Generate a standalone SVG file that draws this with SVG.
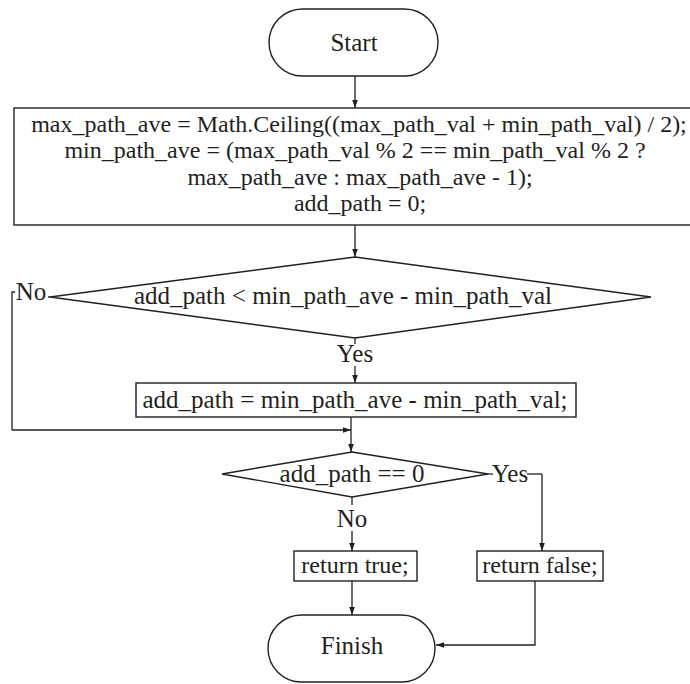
<svg xmlns="http://www.w3.org/2000/svg" width="690" height="684" viewBox="0 0 690 684">
<defs>
<marker id="ah" viewBox="0 0 10 10" refX="10" refY="5" markerWidth="8" markerHeight="8" markerUnits="userSpaceOnUse" orient="auto">
<path d="M0,1.5 L10,5 L0,8.5 Z" fill="#231f20"/>
</marker>
<style>
.s{fill:#fff;stroke:#231f20;stroke-width:1.4}
.c{fill:none;stroke:#231f20;stroke-width:1.3}
.a{marker-end:url(#ah)}
text{font-family:"Liberation Serif","Times New Roman",serif;font-size:24px;fill:#231f20;text-anchor:middle}
.big{font-size:25px}
</style>
</defs>
<rect width="690" height="684" fill="#fff"/>
<g id="connectors">
<path class="c a" d="M355,76 V108"/>
<path class="c a" d="M355,225 V257"/>
<path class="c" d="M355,338 V344"/>
<path class="c a" d="M355,366 V383"/>
<path class="c" d="M50,297 H48"/>
<path class="c" d="M15,292 H12 V430"/>
<path class="c a" d="M12,430 H351"/>
<path class="c a" d="M351,417 V452"/>
<path class="c" d="M488,474 H493"/>
<path class="c" d="M527,474 H542"/>
<path class="c a" d="M542,474 V551"/>
<path class="c" d="M352,497 V505"/>
<path class="c a" d="M352,531 V551"/>
<path class="c a" d="M352,581 V615"/>
<path class="c a" d="M535,581 V645 H436"/>
<text x="31" y="300" class="big">No</text>
<text x="355" y="362" class="big">Yes</text>
<text x="510" y="482" class="big">Yes</text>
<text x="352" y="527" class="big">No</text>
</g>
<g id="start">
<rect class="s" x="269" y="9" width="169" height="67" rx="33.5"/>
<text x="354" y="51" class="big">Start</text>
</g>
<g id="init">
<rect class="s" x="14" y="108" width="700" height="117"/>
<text x="359" y="132">max_path_ave = Math.Ceiling((max_path_val + min_path_val) / 2);</text>
<text x="355" y="158">min_path_ave = (max_path_val % 2 == min_path_val % 2 ?</text>
<text x="360" y="185">max_path_ave : max_path_ave - 1);</text>
<text x="360" y="211">add_path = 0;</text>
</g>
<g id="cond1">
<polygon class="s" points="355,257 651,297 355,338 50,297"/>
<text x="343" y="304" class="big">add_path &lt; min_path_ave - min_path_val</text>
</g>
<g id="assign">
<rect class="s" x="136" y="383" width="440" height="34"/>
<text x="355" y="408" class="big">add_path = min_path_ave - min_path_val;</text>
</g>
<g id="cond2">
<polygon class="s" points="352,452 488,474 352,497 222,474"/>
<text x="352" y="482" class="big">add_path == 0</text>
</g>
<g id="rettrue">
<rect class="s" x="294" y="551" width="123" height="30"/>
<text x="355" y="573">return true;</text>
</g>
<g id="retfalse">
<rect class="s" x="477" y="551" width="126" height="30"/>
<text x="540" y="573">return false;</text>
</g>
<g id="finish">
<rect class="s" x="268" y="615" width="167" height="67" rx="33.5"/>
<text x="352" y="654" class="big">Finish</text>
</g>
</svg>
